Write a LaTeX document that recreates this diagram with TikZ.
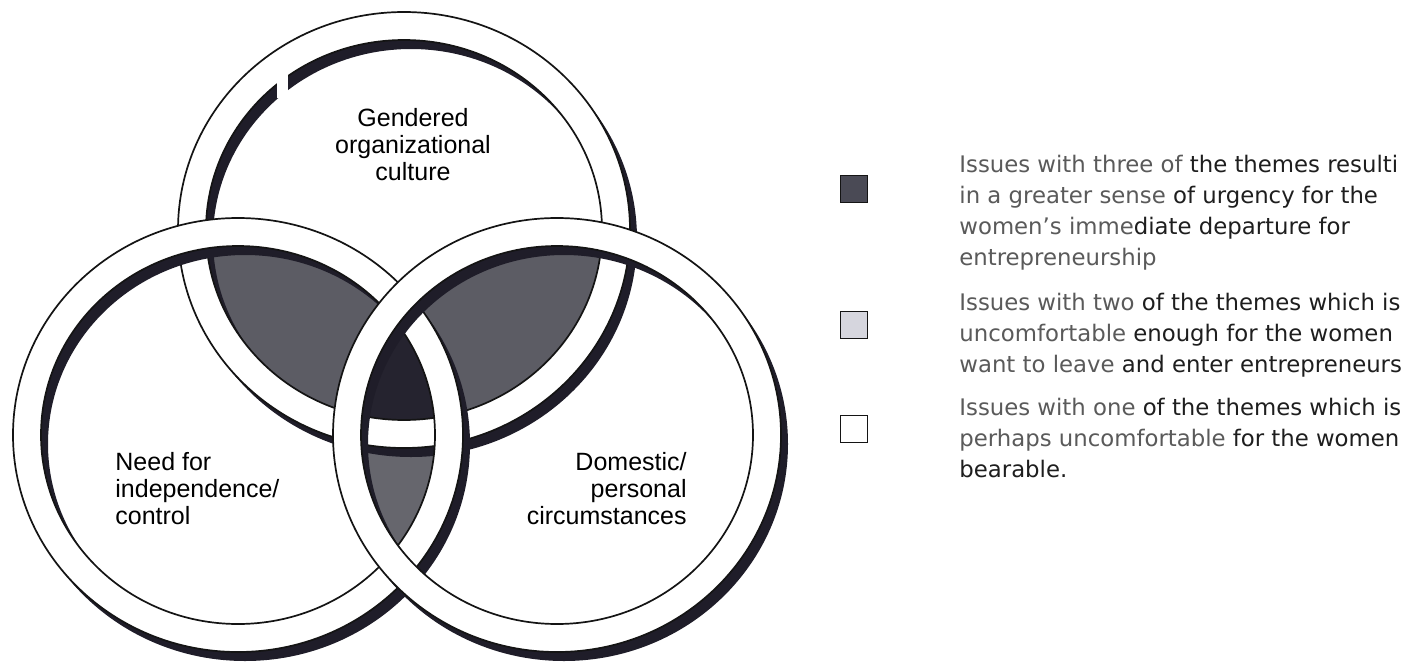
\documentclass[tikz,border=0pt]{standalone}
\usepackage{fontspec}
\setmainfont{Liberation Sans}
\newfontfamily\legfont{DejaVu Sans}
\definecolor{shadowcol}{HTML}{1F1D29}
\definecolor{lensgray}{HTML}{5C5C64}
\definecolor{lensgraylow}{HTML}{66666D}
\definecolor{triplecol}{HTML}{25232F}
\definecolor{legdark}{HTML}{1E1E1E}
\definecolor{leglight}{HTML}{5A5A5A}
\definecolor{inkcol}{HTML}{141414}
\definecolor{boxdark}{HTML}{4A4A55}
\definecolor{boxlight}{HTML}{D6D6DE}
\newcommand\drawring[4]{%
  \fill[ringshadow, shift={(7,9)}] (#1,#2) ellipse [x radius=#3, y radius=#4]
       (#1,#2) ellipse [x radius=#3-28, y radius=#4-28];
  \fill[ringband] (#1,#2) ellipse [x radius=#3, y radius=#4]
       (#1,#2) ellipse [x radius=#3-28, y radius=#4-28];
  \draw[ringline] (#1,#2) ellipse [x radius=#3, y radius=#4];
  \draw[ringline] (#1,#2) ellipse [x radius=#3-28, y radius=#4-28];
}
\begin{document}
\begin{tikzpicture}[x=0.5pt,y=-0.5pt,
  ringline/.style={draw=inkcol, line width=0.85pt},
  ringshadow/.style={fill=shadowcol, even odd rule},
  ringband/.style={fill=white, even odd rule},
  label/.style={font=\fontsize{12.5}{13.5}\selectfont, inner sep=0pt, text=black},
  legtext/.style={font=\legfont\fontsize{11.4}{15.5}\selectfont, inner sep=0pt, align=left, anchor=west, text=leglight},
  legbox/.style={draw=inkcol, line width=0.8pt, minimum width=13.5pt, minimum height=13.5pt, inner sep=0pt}
]
\useasboundingbox (0,0) rectangle (1407,665);
\clip (0,0) rectangle (1407,665);
\fill[white] (0,0) rectangle (1407,665);

% lens fills
\begin{scope}
  \clip (404,230) ellipse [x radius=198, y radius=190];
  \fill[lensgray] (238,435) ellipse [x radius=197, y radius=189];
  \fill[lensgray] (557,435) ellipse [x radius=196, y radius=189];
\end{scope}
\begin{scope}
  \clip (238,435) ellipse [x radius=197, y radius=189];
  \fill[lensgraylow] (557,435) ellipse [x radius=196, y radius=189];
  \clip (404,230) ellipse [x radius=198, y radius=190];
  \fill[triplecol] (557,435) ellipse [x radius=196, y radius=189];
\end{scope}

% rings: top, left, right (stacked in this order)
\drawring{404}{230}{226}{218}
\fill[white] (277,70) rectangle (288,98);
\drawring{238}{435}{225}{217}
\drawring{557}{435}{224}{217}

% labels
\node[label, align=center] (tg) at (413,145) {Gendered\\organizational\\culture};
\node[label, align=left, anchor=west] (lg) at (115,489) {Need for\\independence/\\control};
\node[label, align=right, anchor=east] (rg) at (687,489) {Domestic/\\personal\\circumstances};

% legend
\node[legbox, fill=boxdark] (b1) at (854,189) {};
\node[legbox, fill=boxlight] (b2) at (854,325) {};
\node[legbox, fill=white] (b3) at (854,429) {};

\node[legtext] (t1) at (959,213) {Issues with three of \textcolor{legdark}{the themes resulti}\\
in a greater sense \textcolor{legdark}{of urgency for the}\\
women’s imme\textcolor{legdark}{diate departure for}\\
entrepreneurship};
\node[legtext] (t2) at (959,335) {Issues with two \textcolor{legdark}{of the themes which is}\\
uncomfortable \textcolor{legdark}{enough for the women}\\
want to leave \textcolor{legdark}{and enter entrepreneurs}};
\node[legtext] (t3) at (959,438) {Issues with one \textcolor{legdark}{of the themes which is}\\
perhaps uncomfortable \textcolor{legdark}{for the women}\\
\textcolor{legdark}{bearable.}};
\end{tikzpicture}
\end{document}
